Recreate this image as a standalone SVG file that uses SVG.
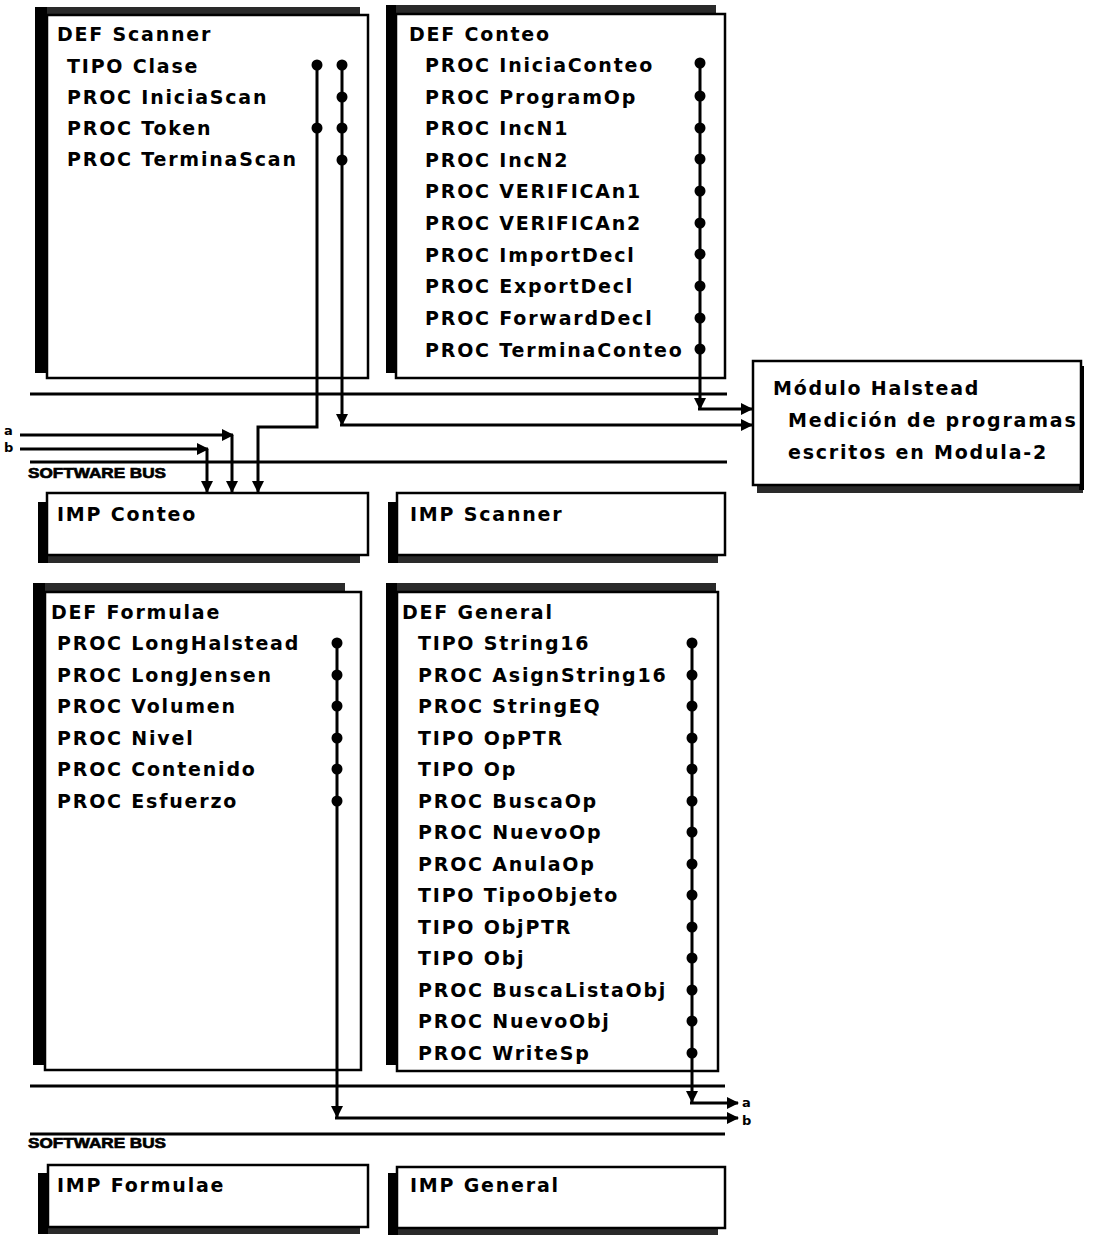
<svg xmlns="http://www.w3.org/2000/svg" width="1093" height="1237" viewBox="0 0 1093 1237">
<style>
.box{fill:#fff;stroke:#000;stroke-width:2.5}
.bar{fill:#000}
.band{fill:#2a2a2a}
.t{font-family:"DejaVu Sans",sans-serif;font-weight:bold;font-size:19px;letter-spacing:1.8px;fill:#000}
.bus{stroke:#000;stroke-width:3;fill:none}
.w{stroke:#000;stroke-width:3;fill:none}
.wa{stroke:#000;stroke-width:3;fill:none;marker-end:url(#ah)}
.dot{fill:#000}
.sb{font-family:"Liberation Sans",sans-serif;font-weight:bold;font-size:15px;fill:#000;stroke:#000;stroke-width:0.7}
.lab{font-family:"DejaVu Sans",sans-serif;font-weight:bold;font-size:13px;fill:#000}
</style>
<defs>
<marker id="ah" viewBox="0 0 12 12" refX="11" refY="6" markerWidth="12" markerHeight="12" markerUnits="userSpaceOnUse" orient="auto">
<path d="M0,0 L12,6 L0,12 z" fill="#000"/>
</marker>
</defs>
<rect width="1093" height="1237" fill="#fff"/>

<g id="def-scanner">
<rect class="band" x="35" y="7" width="325" height="9"/>
<rect class="bar" x="35" y="7" width="12" height="366"/>
<rect class="box" x="47" y="15" width="321" height="363"/>
<text class="t" x="57" y="41">DEF Scanner</text>
<text class="t" x="67" y="73">TIPO  Clase</text>
<text class="t" x="67" y="104">PROC IniciaScan</text>
<text class="t" x="67" y="135">PROC Token</text>
<text class="t" x="67" y="166">PROC TerminaScan</text>
</g>

<g id="def-conteo">
<rect class="band" x="386" y="5" width="330" height="9"/>
<rect class="bar" x="386" y="5" width="10" height="368"/>
<rect class="box" x="396" y="14" width="329" height="364"/>
<text class="t" x="409" y="41">DEF Conteo</text>
<text class="t" x="425" y="72">PROC IniciaConteo</text>
<text class="t" x="425" y="104">PROC ProgramOp</text>
<text class="t" x="425" y="135">PROC IncN1</text>
<text class="t" x="425" y="167">PROC IncN2</text>
<text class="t" x="425" y="198">PROC VERIFICAn1</text>
<text class="t" x="425" y="230">PROC VERIFICAn2</text>
<text class="t" x="425" y="262">PROC ImportDecl</text>
<text class="t" x="425" y="293">PROC ExportDecl</text>
<text class="t" x="425" y="325">PROC ForwardDecl</text>
<text class="t" x="425" y="357">PROC TerminaConteo</text>
</g>

<g id="halstead">
<rect class="band" x="757" y="484" width="326" height="9"/>
<rect class="bar" x="1079" y="366" width="5" height="124"/>
<rect class="box" x="753" y="361" width="328" height="124"/>
<text class="t" x="773" y="395">Módulo Halstead</text>
<text class="t" x="788" y="427">Medición de programas</text>
<text class="t" x="788" y="459">escritos en Modula-2</text>
</g>

<g id="imp-conteo">
<rect class="band" x="38" y="554" width="322" height="9"/>
<rect class="bar" x="38" y="502" width="10" height="61"/>
<rect class="box" x="47" y="493" width="321" height="62"/>
<text class="t" x="57" y="521">IMP Conteo</text>
</g>

<g id="imp-scanner">
<rect class="band" x="388" y="554" width="330" height="9"/>
<rect class="bar" x="388" y="502" width="10" height="61"/>
<rect class="box" x="397" y="493" width="328" height="62"/>
<text class="t" x="410" y="521">IMP Scanner</text>
</g>

<g id="def-formulae">
<rect class="band" x="33" y="583" width="312" height="10"/>
<rect class="bar" x="33" y="583" width="12" height="482"/>
<rect class="box" x="45" y="592" width="316" height="478"/>
<text class="t" x="51" y="619">DEF Formulae</text>
<text class="t" x="57" y="650">PROC LongHalstead</text>
<text class="t" x="57" y="682">PROC LongJensen</text>
<text class="t" x="57" y="713">PROC Volumen</text>
<text class="t" x="57" y="745">PROC Nivel</text>
<text class="t" x="57" y="776">PROC Contenido</text>
<text class="t" x="57" y="808">PROC Esfuerzo</text>
</g>

<g id="def-general">
<rect class="band" x="386" y="583" width="330" height="10"/>
<rect class="bar" x="386" y="583" width="11" height="482"/>
<rect class="box" x="397" y="592" width="321" height="479"/>
<text class="t" x="402" y="619">DEF General</text>
<text class="t" x="418" y="650">TIPO String16</text>
<text class="t" x="418" y="682">PROC AsignString16</text>
<text class="t" x="418" y="713">PROC StringEQ</text>
<text class="t" x="418" y="745">TIPO OpPTR</text>
<text class="t" x="418" y="776">TIPO Op</text>
<text class="t" x="418" y="808">PROC BuscaOp</text>
<text class="t" x="418" y="839">PROC NuevoOp</text>
<text class="t" x="418" y="871">PROC AnulaOp</text>
<text class="t" x="418" y="902">TIPO TipoObjeto</text>
<text class="t" x="418" y="934">TIPO ObjPTR</text>
<text class="t" x="418" y="965">TIPO Obj</text>
<text class="t" x="418" y="997">PROC BuscaListaObj</text>
<text class="t" x="418" y="1028">PROC NuevoObj</text>
<text class="t" x="418" y="1060">PROC WriteSp</text>
</g>

<g id="imp-formulae">
<rect class="band" x="38" y="1226" width="322" height="8"/>
<rect class="bar" x="38" y="1173" width="10" height="61"/>
<rect class="box" x="48" y="1165" width="320" height="62"/>
<text class="t" x="57" y="1192">IMP Formulae</text>
</g>

<g id="imp-general">
<rect class="band" x="388" y="1227" width="330" height="8"/>
<rect class="bar" x="388" y="1173" width="10" height="62"/>
<rect class="box" x="397" y="1167" width="328" height="61"/>
<text class="t" x="410" y="1192">IMP General</text>
</g>

<g id="buses">
<line class="bus" x1="30" y1="394" x2="727" y2="394"/>
<line class="bus" x1="30" y1="462" x2="727" y2="462"/>
<text class="sb" x="28" y="478" textLength="138" lengthAdjust="spacingAndGlyphs">SOFTWARE BUS</text>
<line class="bus" x1="30" y1="1086" x2="725" y2="1086"/>
<line class="bus" x1="30" y1="1134" x2="725" y2="1134"/>
<text class="sb" x="28" y="1148" textLength="138" lengthAdjust="spacingAndGlyphs">SOFTWARE BUS</text>
<text class="lab" x="4" y="435">a</text>
<text class="lab" x="4" y="452">b</text>
<text class="lab" x="742" y="1107">a</text>
<text class="lab" x="742" y="1125">b</text>
</g>

<g id="connectors">
<path class="wa" d="M317,65 V427 H258 V492"/>
<line class="wa" x1="342" y1="65" x2="342" y2="425"/>
<line class="wa" x1="340" y1="425" x2="752" y2="425"/>
<line class="wa" x1="700" y1="62" x2="700" y2="409"/>
<line class="wa" x1="698" y1="409" x2="752" y2="409"/>
<line class="wa" x1="20" y1="435" x2="233" y2="435"/>
<line class="wa" x1="232" y1="435" x2="232" y2="492"/>
<line class="wa" x1="20" y1="449" x2="208" y2="449"/>
<line class="wa" x1="207" y1="449" x2="207" y2="492"/>
<line class="wa" x1="337" y1="643" x2="337" y2="1117"/>
<line class="wa" x1="335" y1="1118" x2="738" y2="1118"/>
<line class="wa" x1="692" y1="643" x2="692" y2="1102"/>
<line class="wa" x1="690" y1="1103" x2="738" y2="1103"/>
<g class="dot">
<circle cx="317" cy="65" r="5.5"/><circle cx="317" cy="128" r="5.5"/>
<circle cx="342" cy="65" r="5.5"/><circle cx="342" cy="97" r="5.5"/><circle cx="342" cy="128" r="5.5"/><circle cx="342" cy="160" r="5.5"/>
<circle cx="700" cy="63" r="5.5"/><circle cx="700" cy="96" r="5.5"/><circle cx="700" cy="128" r="5.5"/><circle cx="700" cy="159" r="5.5"/><circle cx="700" cy="191" r="5.5"/><circle cx="700" cy="223" r="5.5"/><circle cx="700" cy="254" r="5.5"/><circle cx="700" cy="286" r="5.5"/><circle cx="700" cy="318" r="5.5"/><circle cx="700" cy="349" r="5.5"/>
<circle cx="337" cy="643" r="5.5"/><circle cx="337" cy="675" r="5.5"/><circle cx="337" cy="706" r="5.5"/><circle cx="337" cy="738" r="5.5"/><circle cx="337" cy="769" r="5.5"/><circle cx="337" cy="801" r="5.5"/>
<circle cx="692" cy="643" r="5.5"/><circle cx="692" cy="675" r="5.5"/><circle cx="692" cy="706" r="5.5"/><circle cx="692" cy="738" r="5.5"/><circle cx="692" cy="769" r="5.5"/><circle cx="692" cy="801" r="5.5"/><circle cx="692" cy="832" r="5.5"/><circle cx="692" cy="864" r="5.5"/><circle cx="692" cy="895" r="5.5"/><circle cx="692" cy="927" r="5.5"/><circle cx="692" cy="958" r="5.5"/><circle cx="692" cy="990" r="5.5"/><circle cx="692" cy="1021" r="5.5"/><circle cx="692" cy="1053" r="5.5"/>
</g>
</g>
</svg>
